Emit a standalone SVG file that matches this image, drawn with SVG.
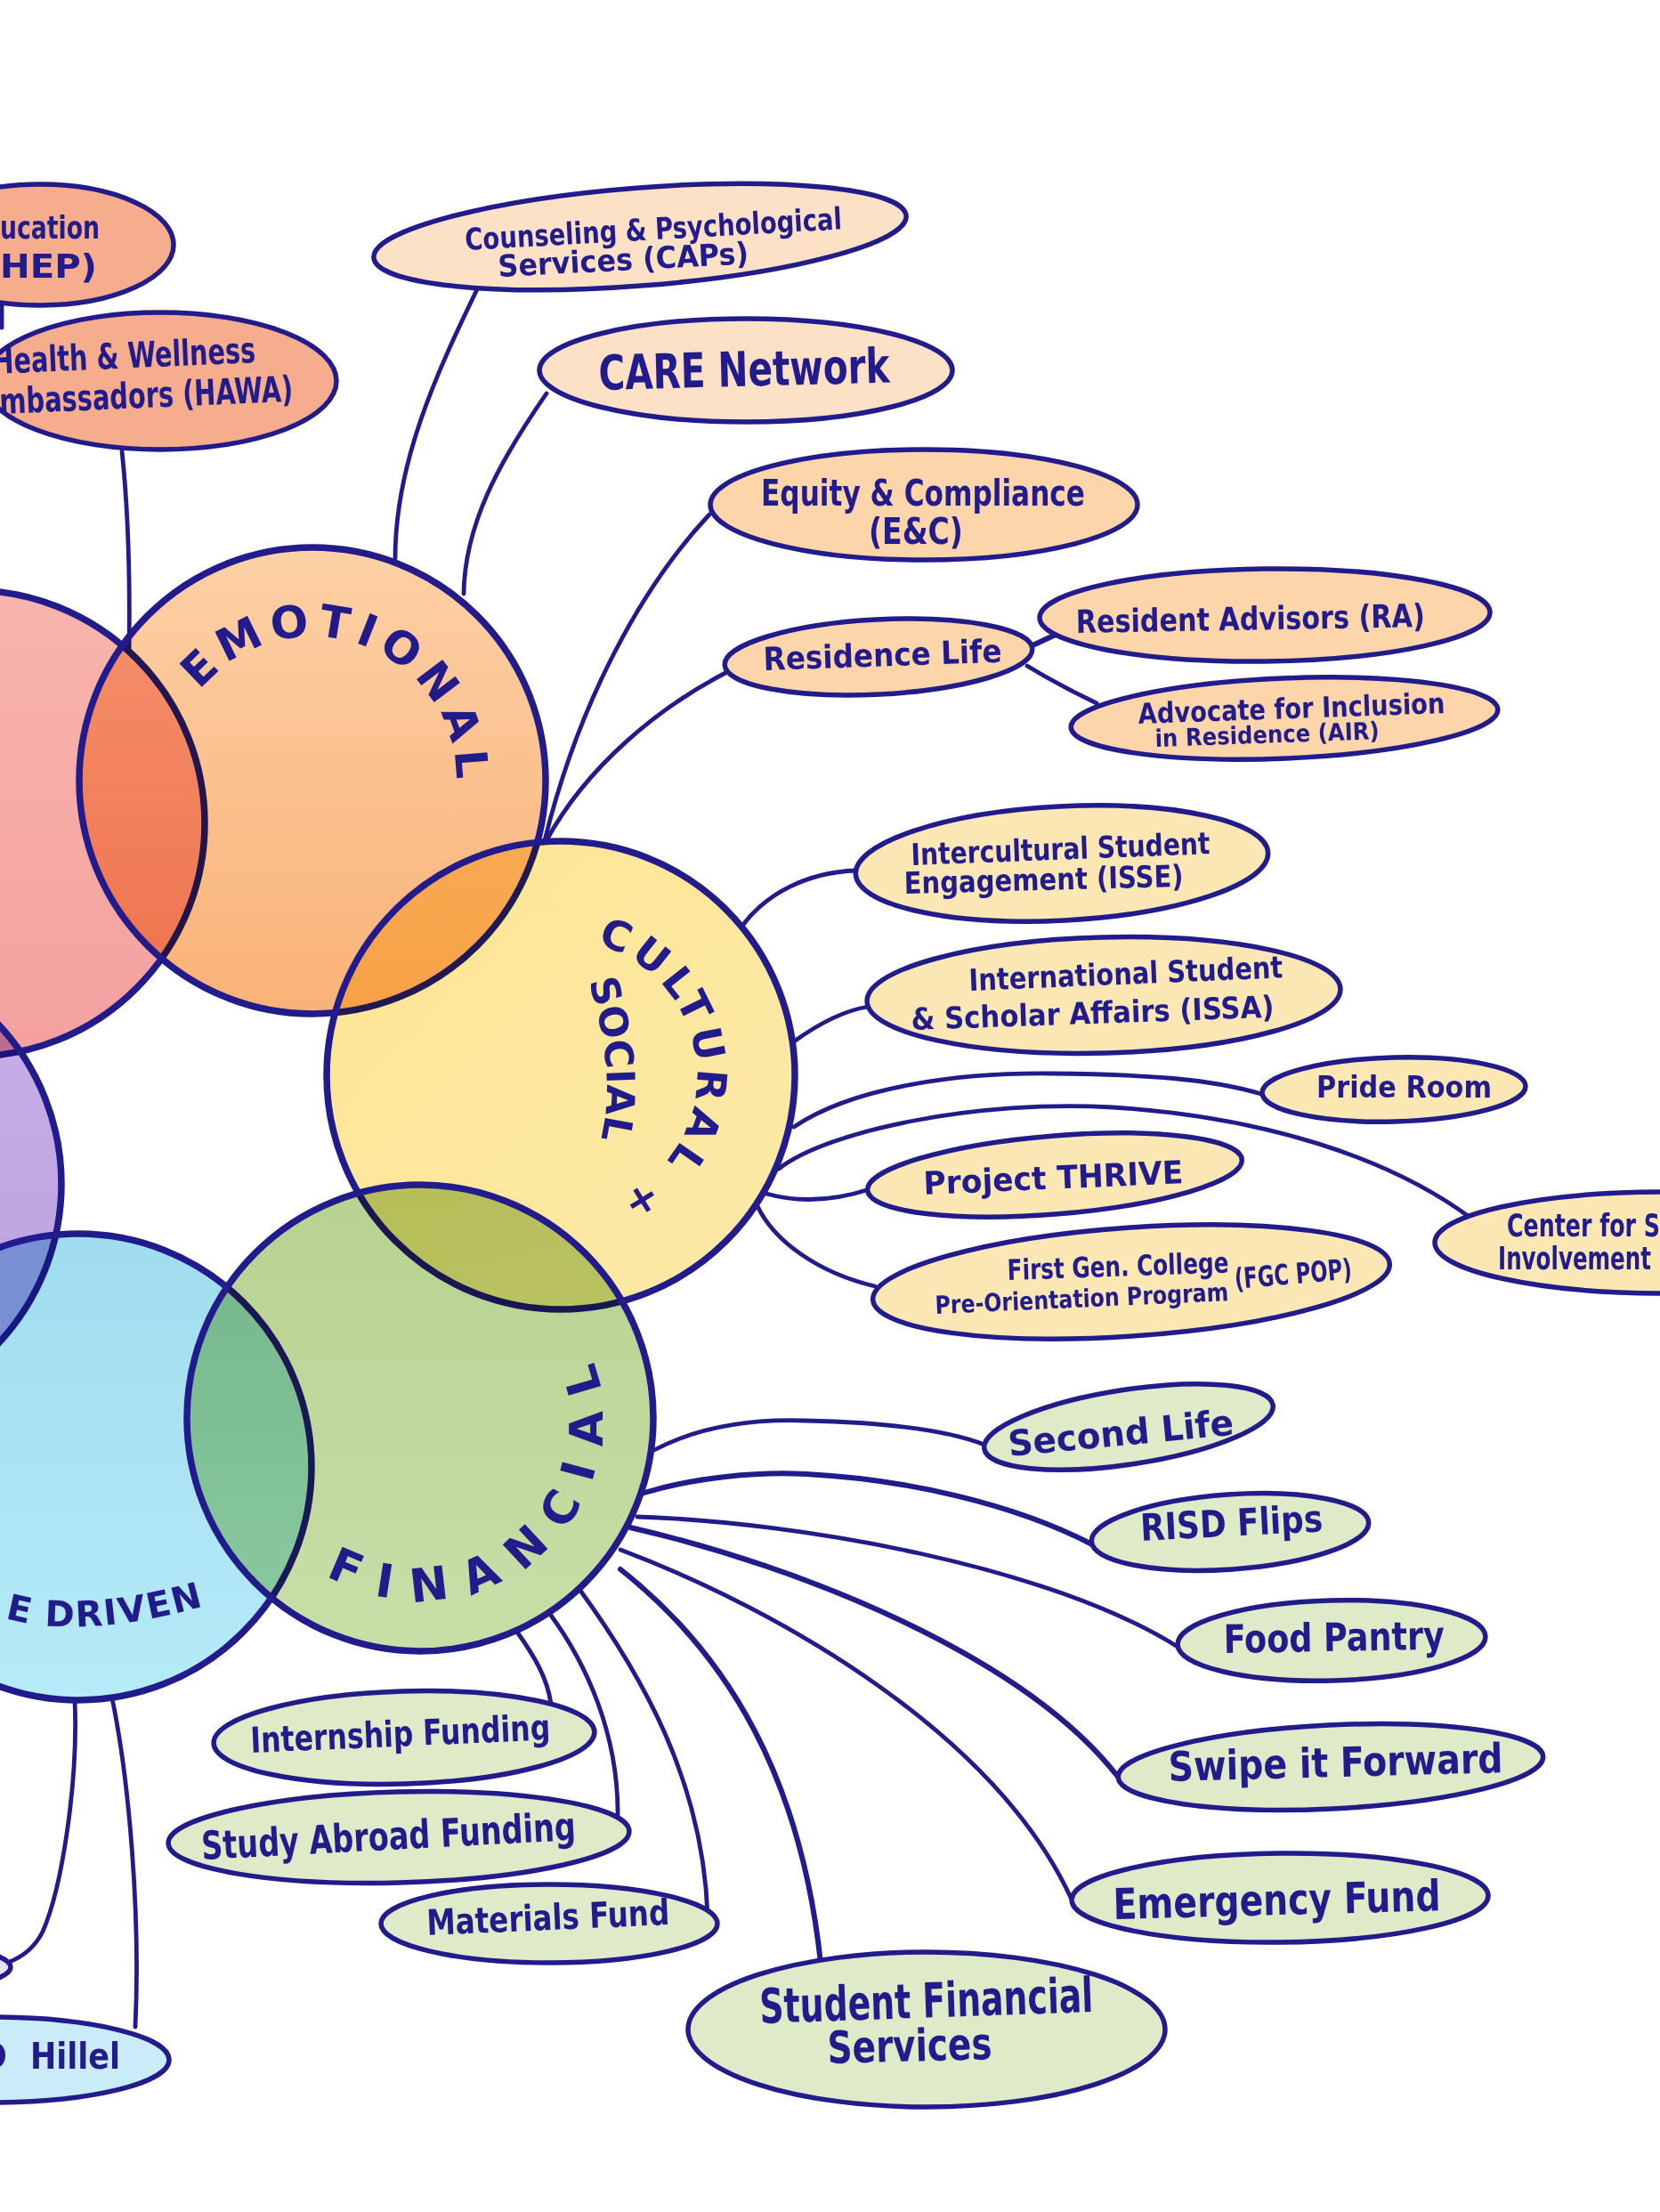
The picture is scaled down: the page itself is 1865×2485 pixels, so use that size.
<svg xmlns="http://www.w3.org/2000/svg" width="1865" height="2485" viewBox="0 0 1865 2485">
<defs>
<style>
.ln{fill:none;stroke:#221b8c;stroke-width:4.8;stroke-linecap:round}
.lt{stroke-width:6}
.nd{stroke:#221b8c;stroke-width:5.5}
.cs{fill:none;stroke:#221b8c;stroke-width:7.5}
.fl{mix-blend-mode:multiply}
.t{font-family:"DejaVu Sans Condensed","DejaVu Sans",sans-serif;font-weight:700;fill:#221b8c}
.b{font-family:"DejaVu Sans","Liberation Sans",sans-serif;font-weight:700;fill:#221b8c}
.sal{fill:#f6ad8e}.pch{fill:#fcd5ab}.pl{fill:#fde1c6}.yel{fill:#fbe7b4}.grn{fill:#dfeac9}.blu{fill:#c9ecf8}
</style>
<linearGradient id="gRed" x1="0" y1="0" x2="0" y2="1"><stop offset="0" stop-color="#f8b4ac"/><stop offset="1" stop-color="#f4a0a0"/></linearGradient>
<linearGradient id="gEmo" x1="0" y1="0" x2="0" y2="1"><stop offset="0" stop-color="#fdd0a6"/><stop offset="1" stop-color="#f9b277"/></linearGradient>
<linearGradient id="gCul" x1="0" y1="0" x2="1" y2="1"><stop offset="0" stop-color="#fde593"/><stop offset="1" stop-color="#fbe9a8"/></linearGradient>
<linearGradient id="gFin" x1="0" y1="0" x2="0" y2="1"><stop offset="0" stop-color="#b7d290"/><stop offset="1" stop-color="#c8dea8"/></linearGradient>
<linearGradient id="gBlu" x1="0" y1="0" x2="0" y2="1"><stop offset="0" stop-color="#a0dcef"/><stop offset="1" stop-color="#b6ebf8"/></linearGradient>
<linearGradient id="gPur" x1="0" y1="0" x2="0" y2="1"><stop offset="0" stop-color="#c9b0e6"/><stop offset="1" stop-color="#b9a0de"/></linearGradient>
<path id="pe" d="M 211.4 794.8 A 162 162 0 0 1 510.3 906.5"/>
<path id="pc" d="M 645.3 1055.8 A 153 153 0 0 1 667.7 1356.3"/>
<path id="ps" d="M 658 1092 Q 697 1209 672 1290"/>
<path id="pf" d="M 331.4 1742.2 A 205 205 0 0 0 636.4 1470.5"/>
<path id="pd" d="M 0 1816 Q 95 1846 250 1798"/>
</defs>
<rect width="1865" height="2485" fill="#ffffff"/>

<g id="connectors">
<path class="ln" d="M 2 343 L 2 368"/>
<path class="ln" d="M 137 507 Q 147 600 145 732"/>
<path class="ln" d="M 537 323 C 490 420, 444 520, 444 627"/>
<path class="ln" d="M 614 442 C 560 520, 522 590, 521 667"/>
<path class="ln" d="M 797 578 C 720 660, 650 790, 612 944"/>
<path class="ln" d="M 815 756 C 740 795, 660 860, 614 944"/>
<path class="ln lt" d="M 1158 726 L 1186 713"/>
<path class="ln" d="M 1154 748 Q 1190 770 1232 790"/>
<path class="ln" d="M 834 1040 C 860 1005, 905 980, 962 978"/>
<path class="ln" d="M 892 1170 C 920 1150, 950 1135, 975 1131"/>
<path class="ln" d="M 892 1266 C 960 1220, 1080 1205, 1180 1206 C 1290 1207, 1360 1212, 1417 1229"/>
<path class="ln" d="M 875 1313 C 930 1270, 1100 1235, 1250 1244 C 1420 1255, 1560 1300, 1652 1368"/>
<path class="ln" d="M 861 1341 C 900 1352, 940 1348, 977 1336"/>
<path class="ln" d="M 851 1355 C 870 1395, 920 1430, 983 1445"/>
<path class="ln" d="M 735 1629 C 790 1600, 850 1594, 906 1596 C 990 1598, 1060 1605, 1106 1623"/>
<path class="ln lt" d="M 724 1677 C 780 1660, 850 1653, 906 1656 C 1020 1662, 1140 1690, 1227 1735"/>
<path class="ln" d="M 716 1704 C 900 1710, 1180 1760, 1323 1850"/>
<path class="ln lt" d="M 708 1716 C 900 1760, 1150 1860, 1256 1996"/>
<path class="ln" d="M 697 1741 C 880 1810, 1120 1950, 1204 2134"/>
<path class="ln lt" d="M 697 1763 C 820 1860, 900 2000, 922 2205"/>
<path class="ln" d="M 650 1784 C 720 1880, 790 2000, 795 2152"/>
<path class="ln" d="M 617 1812 C 660 1870, 695 1950, 694 2040"/>
<path class="ln" d="M 580 1832 C 600 1860, 615 1885, 619 1914"/>
<path class="ln" d="M 84 1910 C 88 2000, 70 2120, 48 2170 C 38 2190, 22 2200, 8 2205"/>
<path class="ln" d="M 126 1908 C 145 2000, 158 2150, 152 2277"/>
</g>

<g id="c-red">
<circle class="fl" cx="-32" cy="925" r="262" fill="url(#gRed)"/>
<circle class="cs" cx="-32" cy="925" r="262"/>
</g>
<g id="c-purple">
<circle class="fl" cx="-193" cy="1330" r="262" fill="url(#gPur)"/>
<circle class="cs" cx="-193" cy="1330" r="262"/>
</g>
<g id="c-emotional">
<circle class="fl" cx="351" cy="877" r="262" fill="url(#gEmo)"/>
<circle class="cs" cx="351" cy="877" r="262"/>
<text class="b" font-size="50" letter-spacing="8"><textPath href="#pe" startOffset="50%" text-anchor="middle">EMOTIONAL</textPath></text>
</g>
<g id="c-cultural">
<circle class="fl" cx="630" cy="1208" r="263" fill="url(#gCul)"/>
<circle class="cs" cx="630" cy="1208" r="263"/>
<text class="b" font-size="46" letter-spacing="6"><textPath href="#pc" startOffset="50%" text-anchor="middle">CULTURAL +</textPath></text>
<text class="b" font-size="44"><textPath href="#ps" startOffset="50%" text-anchor="middle">SOCIAL</textPath></text>
</g>
<g id="c-blue">
<circle class="fl" cx="88" cy="1648" r="262" fill="url(#gBlu)"/>
<circle class="cs" cx="88" cy="1648" r="262"/>
<text class="b" font-size="40" letter-spacing="2"><textPath href="#pd" startOffset="6">E DRIVEN</textPath></text>
</g>
<g id="c-financial">
<circle class="fl" cx="472" cy="1593" r="262" fill="url(#gFin)"/>
<circle class="cs" cx="472" cy="1593" r="262"/>
<text class="b" font-size="52" letter-spacing="23"><textPath href="#pf" startOffset="50%" text-anchor="middle">FINANCIAL</textPath></text>
</g>

<g id="n-hep">
<ellipse class="nd sal" cx="45" cy="275" rx="150" ry="68"/>
<text class="t" x="0" y="268" font-size="36" textLength="112" lengthAdjust="spacingAndGlyphs">ucation</text>
<text class="t" x="0" y="312" font-size="38" textLength="109" lengthAdjust="spacingAndGlyphs">HEP)</text>
</g>
<g id="n-hawa">
<ellipse class="nd sal" cx="180" cy="428" rx="198" ry="77"/>
<text class="t" x="-8" y="420" font-size="40" textLength="296" lengthAdjust="spacingAndGlyphs" transform="rotate(-2.5 -8 420)">Health &amp; Wellness</text>
<text class="t" x="0" y="465" font-size="40" textLength="330" lengthAdjust="spacingAndGlyphs" transform="rotate(-2.5 0 465)">mbassadors (HAWA)</text>
</g>
<g id="n-caps">
<ellipse class="nd pl" cx="719" cy="266" rx="300" ry="55" transform="rotate(-4.5 719 266)"/>
<text class="t" x="523" y="281" font-size="34" textLength="424" lengthAdjust="spacingAndGlyphs" transform="rotate(-3.2 523 281)">Counseling &amp; Psychological</text>
<text class="t" x="560" y="311" font-size="34" textLength="282" lengthAdjust="spacingAndGlyphs" transform="rotate(-3 560 311)">Services (CAPs)</text>
</g>
<g id="n-care">
<ellipse class="nd pl" cx="838" cy="416" rx="232" ry="58"/>
<text class="t" x="673" y="438" font-size="54" textLength="327" lengthAdjust="spacingAndGlyphs" transform="rotate(-1.5 673 438)">CARE Network</text>
</g>
<g id="n-ec">
<ellipse class="nd pch" cx="1038" cy="567" rx="240" ry="62"/>
<text class="t" x="855" y="568" font-size="40" textLength="364" lengthAdjust="spacingAndGlyphs">Equity &amp; Compliance</text>
<text class="t" x="976" y="611" font-size="40" textLength="106" lengthAdjust="spacingAndGlyphs">(E&amp;C)</text>
</g>
<g id="n-reslife">
<ellipse class="nd pch" cx="987" cy="738" rx="173" ry="42" transform="rotate(-3 987 738)"/>
<text class="t" x="858" y="753" font-size="36" textLength="268" lengthAdjust="spacingAndGlyphs" transform="rotate(-2 858 753)">Residence Life</text>
</g>
<g id="n-ra">
<ellipse class="nd pch" cx="1421" cy="691" rx="253" ry="52" transform="rotate(-0.7 1421 691)"/>
<text class="t" x="1209" y="711" font-size="36" textLength="392" lengthAdjust="spacingAndGlyphs" transform="rotate(-1 1209 711)">Resident Advisors (RA)</text>
</g>
<g id="n-air">
<ellipse class="nd pch" cx="1443" cy="807" rx="240" ry="45" transform="rotate(-2.4 1443 807)"/>
<text class="t" x="1279" y="813" font-size="32" textLength="345" lengthAdjust="spacingAndGlyphs" transform="rotate(-2 1279 813)">Advocate for Inclusion</text>
<text class="t" x="1298" y="839" font-size="27" textLength="252" lengthAdjust="spacingAndGlyphs" transform="rotate(-2 1298 839)">in Residence (AIR)</text>
</g>
<g id="n-isse">
<ellipse class="nd yel" cx="1193" cy="970" rx="232" ry="64" transform="rotate(-3 1193 970)"/>
<text class="t" x="1024" y="972" font-size="34" textLength="336" lengthAdjust="spacingAndGlyphs" transform="rotate(-2.2 1024 972)">Intercultural Student</text>
<text class="t" x="1016" y="1004" font-size="34" textLength="314" lengthAdjust="spacingAndGlyphs" transform="rotate(-1.5 1016 1004)">Engagement (ISSE)</text>
</g>
<g id="n-issa">
<ellipse class="nd yel" cx="1240" cy="1118" rx="266" ry="65" transform="rotate(-1.5 1240 1118)"/>
<text class="t" x="1089" y="1113" font-size="34" textLength="353" lengthAdjust="spacingAndGlyphs" transform="rotate(-2.4 1089 1113)">International Student</text>
<text class="t" x="1024" y="1157" font-size="34" textLength="408" lengthAdjust="spacingAndGlyphs" transform="rotate(-2 1024 1157)">&amp; Scholar Affairs (ISSA)</text>
</g>
<g id="n-pride">
<ellipse class="nd yel" cx="1566" cy="1224" rx="148" ry="36" transform="rotate(-1.5 1566 1224)"/>
<text class="t" x="1479" y="1233" font-size="34" textLength="197" lengthAdjust="spacingAndGlyphs">Pride Room</text>
</g>
<g id="n-csi">
<ellipse class="nd yel" cx="1870" cy="1396" rx="258" ry="57"/>
<text class="t" x="1693" y="1389" font-size="36" textLength="172" lengthAdjust="spacingAndGlyphs">Center for S</text>
<text class="t" x="1683" y="1426" font-size="36" textLength="172" lengthAdjust="spacingAndGlyphs">Involvement</text>
</g>
<g id="n-thrive">
<ellipse class="nd yel" cx="1185" cy="1320" rx="211" ry="44" transform="rotate(-4.7 1185 1320)"/>
<text class="t" x="1038" y="1342" font-size="36" textLength="292" lengthAdjust="spacingAndGlyphs" transform="rotate(-2.5 1038 1342)">Project THRIVE</text>
</g>
<g id="n-fgc">
<ellipse class="nd yel" cx="1271" cy="1440" rx="291" ry="61" transform="rotate(-4 1271 1440)"/>
<text class="t" x="1132" y="1438" font-size="32" textLength="249" lengthAdjust="spacingAndGlyphs" transform="rotate(-2 1132 1438)">First Gen. College</text>
<text class="t" x="1051" y="1476" font-size="28" textLength="330" lengthAdjust="spacingAndGlyphs" transform="rotate(-2.6 1051 1476)">Pre-Orientation Program</text>
<text class="t" x="1388" y="1448" font-size="32" textLength="132" lengthAdjust="spacingAndGlyphs" transform="rotate(-5 1388 1448)">(FGC POP)</text>
</g>
<g id="n-second">
<ellipse class="nd grn" cx="1268" cy="1603" rx="164" ry="42" transform="rotate(-8.6 1268 1603)"/>
<text class="t" x="1134" y="1636" font-size="40" textLength="254" lengthAdjust="spacingAndGlyphs" transform="rotate(-5.5 1134 1636)">Second Life</text>
</g>
<g id="n-flips">
<ellipse class="nd grn" cx="1382" cy="1721" rx="156" ry="42" transform="rotate(-4 1382 1721)"/>
<text class="t" x="1282" y="1731" font-size="42" textLength="205" lengthAdjust="spacingAndGlyphs" transform="rotate(-3 1282 1731)">RISD Flips</text>
</g>
<g id="n-food">
<ellipse class="nd grn" cx="1496" cy="1843" rx="173" ry="45" transform="rotate(-1.5 1496 1843)"/>
<text class="t" x="1375" y="1857" font-size="44" textLength="248" lengthAdjust="spacingAndGlyphs" transform="rotate(-1 1375 1857)">Food Pantry</text>
</g>
<g id="n-swipe">
<ellipse class="nd grn" cx="1495" cy="1985" rx="239" ry="47" transform="rotate(-2.8 1495 1985)"/>
<text class="t" x="1313" y="2001" font-size="46" textLength="376" lengthAdjust="spacingAndGlyphs" transform="rotate(-1.5 1313 2001)">Swipe it Forward</text>
</g>
<g id="n-emerg">
<ellipse class="nd grn" cx="1438" cy="2132" rx="234" ry="50" transform="rotate(-0.6 1438 2132)"/>
<text class="t" x="1251" y="2156" font-size="48" textLength="368" lengthAdjust="spacingAndGlyphs" transform="rotate(-1.5 1251 2156)">Emergency Fund</text>
</g>
<g id="n-intern">
<ellipse class="nd grn" cx="454" cy="1952" rx="214" ry="52" transform="rotate(-1.7 454 1952)"/>
<text class="t" x="282" y="1969" font-size="40" textLength="337" lengthAdjust="spacingAndGlyphs" transform="rotate(-2.5 282 1969)">Internship Funding</text>
</g>
<g id="n-abroad">
<ellipse class="nd grn" cx="448" cy="2064" rx="259" ry="51" transform="rotate(-1.5 448 2064)"/>
<text class="t" x="227" y="2089" font-size="44" textLength="421" lengthAdjust="spacingAndGlyphs" transform="rotate(-3 227 2089)">Study Abroad Funding</text>
</g>
<g id="n-materials">
<ellipse class="nd grn" cx="617" cy="2161" rx="189" ry="44"/>
<text class="t" x="480" y="2174" font-size="40" textLength="273" lengthAdjust="spacingAndGlyphs" transform="rotate(-2.5 480 2174)">Materials Fund</text>
</g>
<g id="n-sfs">
<ellipse class="nd grn" cx="1041" cy="2280" rx="268" ry="87"/>
<text class="t" x="854" y="2273" font-size="54" textLength="375" lengthAdjust="spacingAndGlyphs" transform="rotate(-2 854 2273)">Student Financial</text>
<text class="t" x="930" y="2318" font-size="50" textLength="185" lengthAdjust="spacingAndGlyphs" transform="rotate(-1.5 930 2318)">Services</text>
</g>
<g id="n-hillel">
<ellipse class="nd blu" cx="-10" cy="2314" rx="200" ry="48"/>
<text class="t" y="2324" font-size="40"><tspan x="-22">D </tspan><tspan x="34" textLength="101" lengthAdjust="spacingAndGlyphs">Hillel</tspan></text>
</g>
<g id="n-leftpartial">
<ellipse class="nd" fill="#e8e0f4" cx="-150" cy="2210" rx="162" ry="30"/>
</g>
</svg>
